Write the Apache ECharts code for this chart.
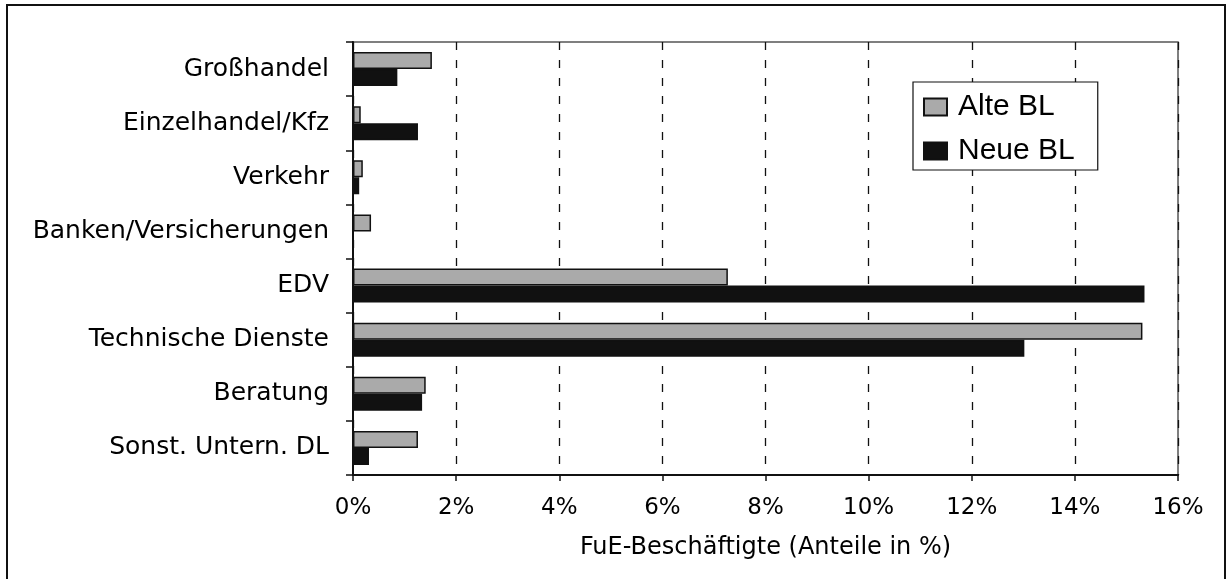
<!DOCTYPE html>
<html>
<head>
<meta charset="utf-8">
<script src="https://cdn.jsdelivr.net/npm/echarts@6/dist/echarts.min.js"></script>
<style>html,body{margin:0;padding:0;background:#fff;}#c{width:1231px;height:579px;}</style>
</head>
<body>
<div id="c"></div>
<script>
const categories = ["Großhandel", "Einzelhandel/Kfz", "Verkehr", "Banken/Versicherungen", "EDV", "Technische Dienste", "Beratung", "Sonst. Untern. DL"];
const alteBL = [1.53, 0.15, 0.19, 0.35, 7.27, 15.31, 1.41, 1.26];
const neueBL = [0.86, 1.26, 0.12, 0, 15.35, 13.02, 1.34, 0.31];
const seriesNames = ["Alte BL", "Neue BL"];
const axisTitle = "FuE-Beschäftigte (Anteile in %)";

const chart = echarts.init(document.getElementById('c'), null, {renderer: 'canvas'});
chart.setOption({
  animation: false,
  backgroundColor: '#fff',
  textStyle: {fontFamily: 'DejaVu Sans', color: '#000'},
  graphic: [{
    type: 'rect', silent: true, z: 100,
    shape: {x: 7, y: 5, width: 1218, height: 600},
    style: {fill: 'none', stroke: '#111', lineWidth: 2}
  }],
  grid: {left: 353, right: 53, top: 42, bottom: 104, show: true, borderColor: '#555', borderWidth: 1.5},
  legend: {
    orient: 'vertical', left: 913, top: 82,
    backgroundColor: '#fff', borderColor: '#111', borderWidth: 1.2,
    padding: [10, 23, 4, 10], itemGap: 14, itemWidth: 23, itemHeight: 17,
    icon: 'rect',
    textStyle: {fontFamily: 'Liberation Sans', fontSize: 30, color: '#000', padding: [0, 0, 0, 6]},
    data: seriesNames
  },
  xAxis: {
    type: 'value', min: 0, max: 16, interval: 2,
    name: axisTitle, nameLocation: 'middle', nameGap: 61,
    nameTextStyle: {fontFamily: 'DejaVu Sans', fontSize: 24, color: '#000'},
    axisLine: {show: true, lineStyle: {color: '#111', width: 2}},
    axisTick: {show: true, length: 6, lineStyle: {color: '#111', width: 1.5}},
    axisLabel: {formatter: '{value}%', fontFamily: 'DejaVu Sans', fontSize: 23, color: '#000', margin: 22},
    splitLine: {show: true, lineStyle: {color: '#111', type: [8, 10], width: 1.3}}
  },
  yAxis: {
    type: 'category', data: categories, inverse: true,
    axisLine: {show: true, lineStyle: {color: '#111', width: 2}},
    axisTick: {show: true, length: 7, lineStyle: {color: '#111', width: 1.5}},
    axisLabel: {fontFamily: 'DejaVu Sans', fontSize: 25, color: '#000', margin: 24},
    splitLine: {show: false}
  },
  series: [
    {name: seriesNames[0], type: 'bar', data: alteBL, barWidth: 17, barGap: '0%',
     itemStyle: {color: '#aaaaaa', borderColor: '#111', borderWidth: 1.5}},
    {name: seriesNames[1], type: 'bar', data: neueBL, barWidth: 17, barGap: '0%',
     itemStyle: {color: '#111', borderColor: '#111', borderWidth: 1.5}}
  ]
});
</script>
</body>
</html>
